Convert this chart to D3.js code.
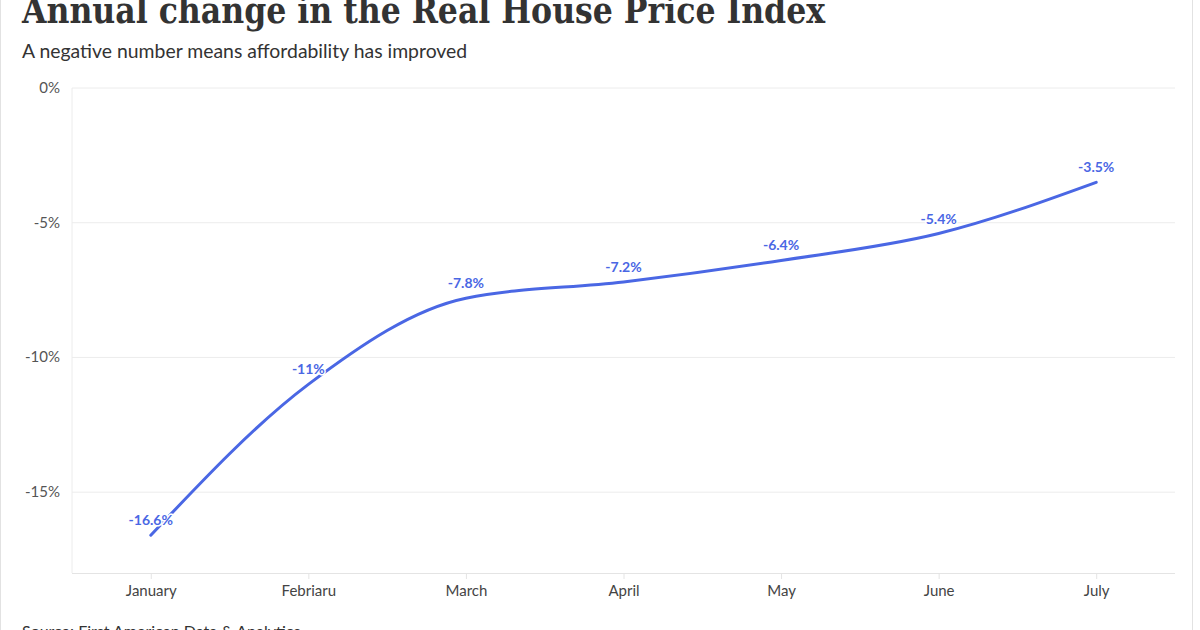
<!DOCTYPE html>
<html>
<head>
<meta charset="utf-8">
<script src="https://cdn.jsdelivr.net/npm/d3@7"></script>
<style>
  body { margin: 0; background: #fff; }
  svg text { font-family: Lato, "Open Sans", sans-serif; }
</style>
</head>
<body>
<div id="canvas"></div>
<script>
// data
var months = ["January", "Febriaru", "March", "April", "May", "June", "July"];
var change = [-16.6, -11, -7.8, -7.2, -6.4, -5.4, -3.5];
var labels = ["-16.6%", "-11%", "-7.8%", "-7.2%", "-6.4%", "-5.4%", "-3.5%"];
var yTicks = [0, -5, -10, -15];

var w = 1200, h = 630;
var plotLeft = 72, plotRight = 1175, plotTop = 88, plotBottom = 573;
var lineColour = "#4a67e4";

var svg = d3.select("#canvas").append("svg").attr("width", w).attr("height", h);

// page frame
svg.append("rect").attr("x", 0.5).attr("y", -2).attr("width", 1192).attr("height", h + 4)
  .style("fill", "none").style("stroke", "#e2e2e2");

var x = d3.scalePoint().domain(months).range([plotLeft, plotRight]).padding(0.5);
var y = d3.scaleLinear().domain([-18, 0]).range([plotBottom, plotTop]);

// titles
svg.append("text").attr("x", 22).attr("y", 23)
  .text("Annual change in the Real House Price Index")
  .attr("textLength", 803).attr("lengthAdjust", "spacingAndGlyphs")
  .style("font-family", "'DejaVu Serif Condensed', 'DejaVu Serif', serif").style("font-size", "38px")
  .style("font-weight", "bold").style("fill", "#333");

svg.append("text").attr("x", 22).attr("y", 58)
  .text("A negative number means affordability has improved")
  .style("font-size", "19.4px").style("fill", "#333");

// grid
svg.selectAll(".grid").data(yTicks).enter().append("line")
  .attr("x1", plotLeft).attr("x2", plotRight)
  .attr("y1", function(d) { return y(d); }).attr("y2", function(d) { return y(d); })
  .style("stroke", "#ececec");

svg.append("line").attr("x1", plotLeft).attr("x2", plotLeft).attr("y1", plotTop).attr("y2", plotBottom)
  .style("stroke", "#ececec");

// y labels
svg.selectAll(".ylab").data(yTicks).enter().append("text")
  .attr("x", 60).attr("y", function(d) { return y(d) + 5; })
  .attr("text-anchor", "end")
  .style("font-size", "15px").style("fill", "#555")
  .text(function(d) { return d + "%"; });

// x axis
var xAxis = svg.append("g").attr("transform", "translate(0," + plotBottom + ")")
  .call(d3.axisBottom(x).tickSize(6).tickSizeOuter(0).tickPadding(6));
xAxis.select(".domain").attr("d", "M" + plotLeft + ",0.5H" + plotRight).style("stroke", "#e4e4e4");
xAxis.selectAll(".tick line").style("stroke", "#e4e4e4");
xAxis.selectAll("text").style("font-family", "Lato, sans-serif")
  .style("font-size", "15px").style("fill", "#444");

// line
var pts = months.map(function(m, i) { return [x(m), y(change[i])]; });
svg.append("path")
  .attr("d", d3.line().curve(d3.curveMonotoneX)(pts))
  .style("fill", "none").style("stroke", lineColour).style("stroke-width", 3)
  .style("stroke-linecap", "round");

// value labels
svg.selectAll(".val").data(months).enter().append("text")
  .attr("x", function(d) { return x(d); })
  .attr("y", function(d, i) { return y(change[i]) - 10; })
  .attr("text-anchor", "middle")
  .style("font-size", "14px").style("font-weight", "bold").style("fill", lineColour)
  .style("paint-order", "stroke").style("stroke", "#fff").style("stroke-width", 3)
  .style("stroke-linejoin", "round")
  .text(function(d, i) { return labels[i]; });

// source
svg.append("text").attr("x", 22).attr("y", 637)
  .text("Source: First American Data & Analytics")
  .style("font-size", "16px").style("fill", "#333");
</script>
</body>
</html>
